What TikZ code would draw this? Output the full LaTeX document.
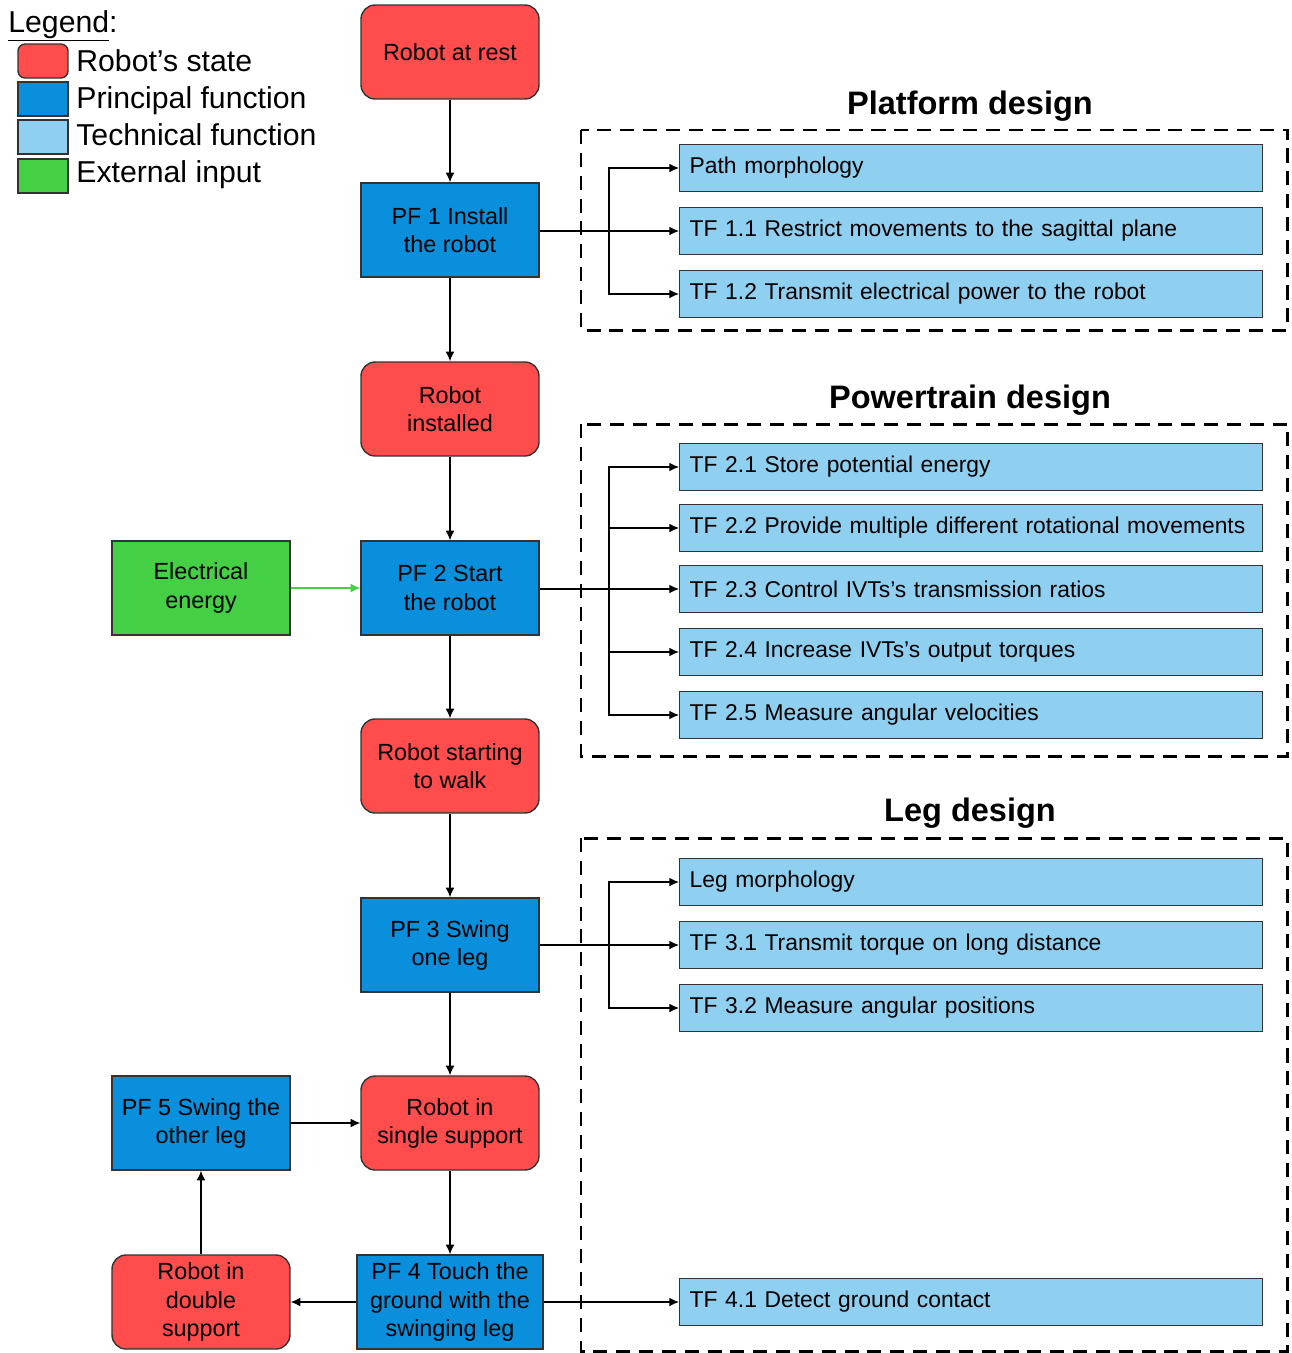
\documentclass[tikz,border=0pt]{standalone}
\usepackage{fontspec}
\setmainfont{Liberation Sans}
\usepackage{tikz}
\usetikzlibrary{arrows, arrows.meta}
\definecolor{statered}{HTML}{FF4D4D}
\definecolor{pfblue}{HTML}{0A8FDC}
\definecolor{tfblue}{HTML}{8FCFF0}
\definecolor{extgreen}{HTML}{44CF44}
\tikzset{
  box/.style={draw=black!80, line width=0.8pt, minimum width=3.56cm, minimum height=1.88cm,
    inner sep=0pt, align=center, font=\fontsize{13.3}{16}\selectfont},
  state/.style={box, fill=statered, rounded corners=8pt},
  pf/.style={box, fill=pfblue},
  ext/.style={box, fill=extgreen},
  tf/.style={draw=black!80, line width=0.8pt, fill=tfblue, anchor=west, minimum height=0.94cm,
    text width=11.26cm, inner xsep=0.2cm, inner ysep=0pt, align=left, font=\fontsize{13}{16}\selectfont},
  swatch/.style={draw=black!80, line width=0.8pt, minimum width=1cm, minimum height=0.68cm, inner sep=0pt},
  legtext/.style={anchor=base west, inner sep=0pt, font=\fontsize{17.2}{20}\selectfont},
  frame/.style={line width=1.7pt, dash pattern=on 8pt off 5pt},
  title/.style={anchor=base, font=\bfseries\fontsize{18.5}{22}\selectfont},
  link/.style={-{Latex[length=5.5pt, width=5pt]}, line width=0.7pt}
}
\begin{document}
\begin{tikzpicture}[x=0.02cm, y=-0.02cm]
    \useasboundingbox (0,0) rectangle (1292,1353);
    % legend
    \node[legtext] (lg_0) at (8,32) {\underline{Legend}:};
    \node[swatch, fill=statered, rounded corners=4pt] (lg_1) at (43,61) {};
    \node[swatch, fill=pfblue] (lg_2) at (43,99) {};
    \node[swatch, fill=tfblue] (lg_3) at (43,137) {};
    \node[swatch, fill=extgreen] (lg_4) at (43,176) {};
    \node[legtext] (lt_1) at (76,71) {Robot’s state};
    \node[legtext] (lt_2) at (76,108) {Principal function};
    \node[legtext] (lt_3) at (76,145) {Technical function};
    \node[legtext] (lt_4) at (76,182) {External input};
    % dashed frames
    \draw[frame] (581,130) rectangle (1287,330);
    \draw[frame] (581,424) rectangle (1287,756);
    \draw[frame] (581,838) rectangle (1287,1351);
    \node[title] (t_1) at (970,114) {Platform design};
    \node[title] (t_2) at (970,408) {Powertrain design};
    \node[title] (t_3) at (970,821) {Leg design};
    % main column
    \node[state] (s_1) at (450,52) {Robot at rest};
    \node[pf] (pf_1) at (450,230) {PF 1 Install\\the robot};
    \node[state] (s_2) at (450,409) {Robot\\installed};
    \node[pf] (pf_2) at (450,588) {PF 2 Start\\the robot};
    \node[state] (s_3) at (450,766) {Robot starting\\to walk};
    \node[pf] (pf_3) at (450,945) {PF 3 Swing\\one leg};
    \node[state] (s_4) at (450,1123) {Robot in\\single support};
    \node[pf, minimum width=3.72cm] (pf_4) at (450,1302) {PF 4 Touch the\\ground with the\\swinging leg};
    % left column
    \node[ext] (e_1) at (201,588) {Electrical\\energy};
    \node[pf] (pf_5) at (201,1123) {PF 5 Swing the\\other leg};
    \node[state] (s_5) at (201,1302) {Robot in\\double\\support};
    % technical functions
    \node[tf] (tf_10) at (679,168) {Path morphology};
    \node[tf] (tf_11) at (679,231) {TF 1.1 Restrict movements to the sagittal plane};
    \node[tf] (tf_12) at (679,294) {TF 1.2 Transmit electrical power to the robot};
    \node[tf] (tf_21) at (679,467) {TF 2.1 Store potential energy};
    \node[tf] (tf_22) at (679,528) {\mbox{TF 2.2 Provide multiple different rotational movements}};
    \node[tf] (tf_23) at (679,589) {TF 2.3 Control IVTs’s transmission ratios};
    \node[tf] (tf_24) at (679,652) {TF 2.4 Increase IVTs’s output torques};
    \node[tf] (tf_25) at (679,715) {TF 2.5 Measure angular velocities};
    \node[tf] (tf_30) at (679,882) {Leg morphology};
    \node[tf] (tf_31) at (679,945) {TF 3.1 Transmit torque on long distance};
    \node[tf] (tf_32) at (679,1008) {TF 3.2 Measure angular positions};
    \node[tf] (tf_41) at (679,1302) {TF 4.1 Detect ground contact};
    % branch points
    \coordinate (b_1) at (609,231);
    \coordinate (b_2) at (609,589);
    \coordinate (b_3) at (609,945);
    % flow
    \draw[link] (s_1) -- (pf_1);
    \draw[link] (pf_1) -- (s_2);
    \draw[link] (s_2) -- (pf_2);
    \draw[link] (pf_2) -- (s_3);
    \draw[link] (s_3) -- (pf_3);
    \draw[link] (pf_3) -- (s_4);
    \draw[link] (s_4) -- (pf_4);
    \draw[link] (pf_4) -- (s_5);
    \draw[link] (s_5) -- (pf_5);
    \draw[link] (pf_5) -- (s_4);
    \draw[link, draw=extgreen, fill=extgreen] (e_1) -- (pf_2);
    % to technical functions
    \draw[link] (pf_1.east |- tf_11) -- (tf_11.west);
    \draw[link] (b_1) |- (tf_10.west);
    \draw[link] (b_1) |- (tf_12.west);
    \draw[link] (pf_2.east |- tf_23) -- (tf_23.west);
    \draw[link] (b_2) |- (tf_21.west);
    \draw[link] (b_2) |- (tf_22.west);
    \draw[link] (b_2) |- (tf_24.west);
    \draw[link] (b_2) |- (tf_25.west);
    \draw[link] (pf_3.east |- tf_31) -- (tf_31.west);
    \draw[link] (b_3) |- (tf_30.west);
    \draw[link] (b_3) |- (tf_32.west);
    \draw[link] (pf_4) -- (tf_41);
\end{tikzpicture}
\end{document}
